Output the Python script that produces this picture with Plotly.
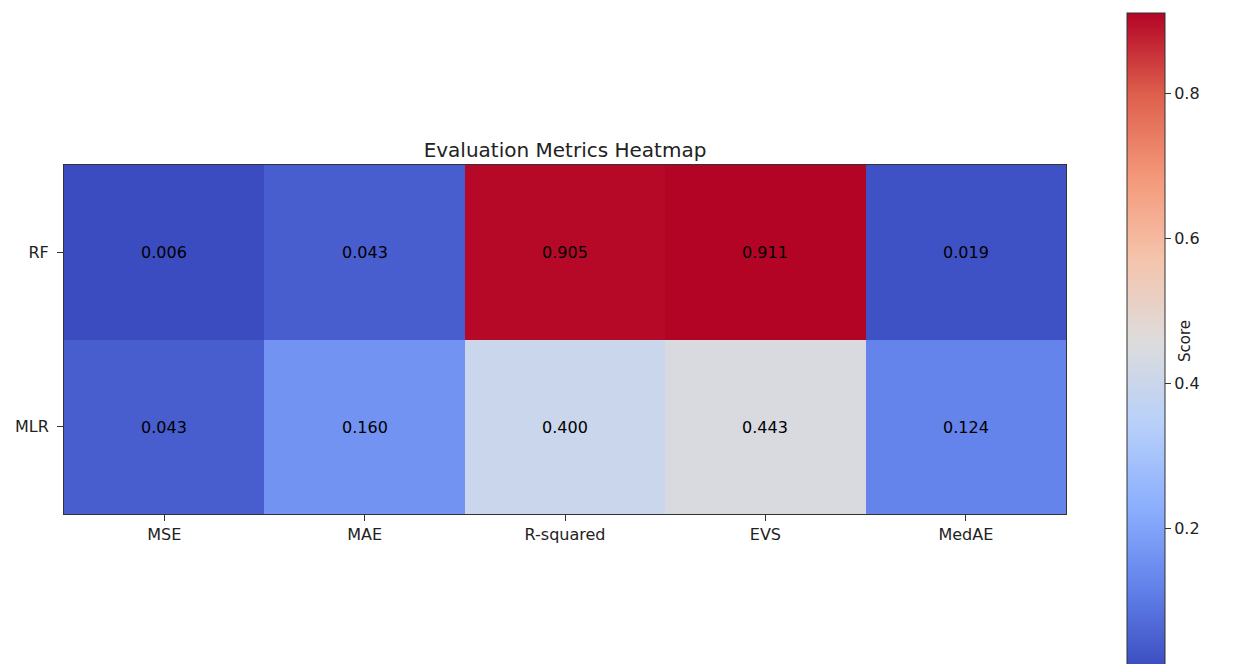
import plotly.graph_objects as go

# Evaluation scores per model and metric
metrics = ["MSE", "MAE", "R-squared", "EVS", "MedAE"]
models = ["RF", "MLR"]
rf_scores = [0.006, 0.043, 0.905, 0.911, 0.019]
mlr_scores = [0.043, 0.160, 0.400, 0.443, 0.124]
cbar_ticks = [0.2, 0.4, 0.6, 0.8]

z = [rf_scores, mlr_scores]
zmin = min(min(r) for r in z)
zmax = max(max(r) for r in z)

# coolwarm-style diverging scale
coolwarm = [
    [0.000, "#3b4cc0"],
    [0.125, "#6282ea"],
    [0.250, "#8db0fe"],
    [0.375, "#b8d0f9"],
    [0.500, "#dddcdc"],
    [0.625, "#f5c4ac"],
    [0.750, "#f4987a"],
    [0.875, "#de604d"],
    [1.000, "#b40426"],
]

W, H = 1235, 664
L, R, T, B = 64, 1066, 165, 514
plot_w = R - L
plot_h = B - T

font = "DejaVu Sans, sans-serif"
tick_size = 16

fig = go.Figure(
    go.Heatmap(
        z=z,
        x=metrics,
        y=models,
        zmin=zmin,
        zmax=zmax,
        colorscale=coolwarm,
        texttemplate="%{z:.3f}",
        textfont=dict(family=font, size=tick_size, color="black"),
        hoverinfo="x+y+z",
        colorbar=dict(
            title=dict(text="Score", side="right", font=dict(family=font, size=15, color="#222")),
            thickness=38,
            thicknessmode="pixels",
            len=656,
            lenmode="pixels",
            x=(1127 - L) / plot_w,
            xanchor="left",
            xpad=0,
            y=(B - 13) / plot_h,
            yanchor="top",
            ypad=0,
            tickvals=cbar_ticks,
            ticktext=[f"{v:.1f}" for v in cbar_ticks],
            ticks="outside",
            ticklen=6,
            tickwidth=1,
            tickcolor="#333",
            tickfont=dict(family=font, size=tick_size, color="#222"),
            outlinewidth=1,
            outlinecolor="#333",
        ),
    )
)

fig.update_layout(
    width=W,
    height=H,
    margin=dict(l=L, r=W - R, t=T, b=H - B, pad=0),
    paper_bgcolor="white",
    plot_bgcolor="white",
    title=dict(
        text="Evaluation Metrics Heatmap",
        x=(L + R) / 2 / W,
        xanchor="center",
        y=1 - 150 / H,
        yanchor="middle",
        font=dict(family=font, size=20, color="#222"),
    ),
    font=dict(family=font, size=tick_size, color="#222"),
)

fig.update_xaxes(
    showline=True, linecolor="#333", linewidth=1, mirror=True,
    ticks="outside", ticklen=6, tickcolor="#333",
    tickfont=dict(family=font, size=tick_size, color="#222"),
    showgrid=False, zeroline=False,
)
fig.update_yaxes(
    autorange="reversed",
    showline=True, linecolor="#333", linewidth=1, mirror=True,
    ticks="outside", ticklen=6, tickcolor="#333",
    ticklabelstandoff=5,
    tickfont=dict(family=font, size=tick_size, color="#222"),
    showgrid=False, zeroline=False,
)

fig.write_html("out.html")
